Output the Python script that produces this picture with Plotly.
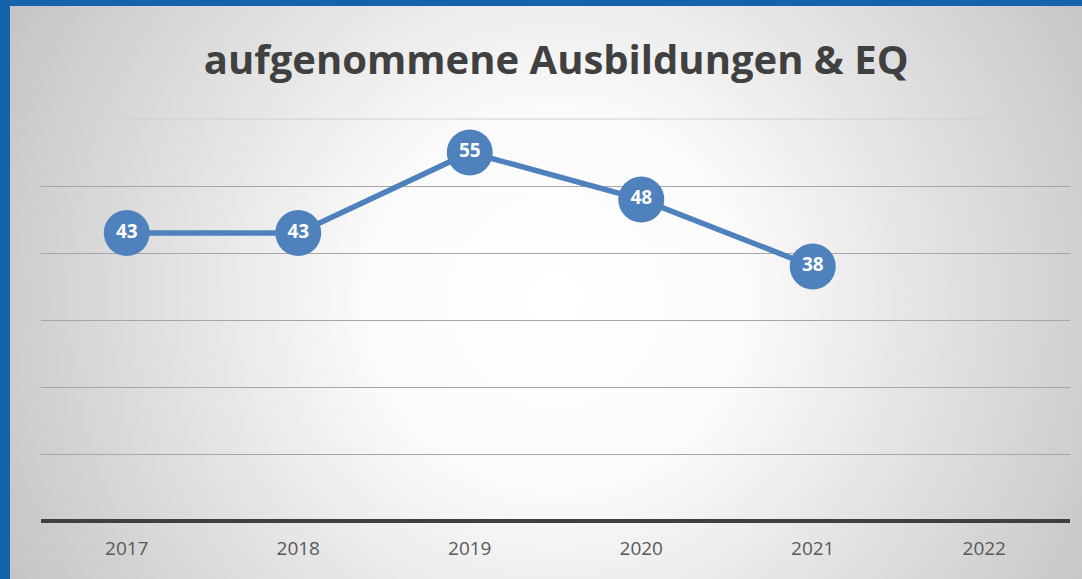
import base64
import plotly.graph_objects as go

years = ["2017", "2018", "2019", "2020", "2021", "2022"]
values = [43, 43, 55, 48, 38, None]

blue = "#4f81bd"

# radial background like the office chart style
svg = """<svg xmlns='http://www.w3.org/2000/svg' width='1082' height='579'>
<defs><radialGradient id='g' cx='556' cy='300' r='620' gradientUnits='userSpaceOnUse'>
<stop offset='0' stop-color='#ffffff'/><stop offset='0.3' stop-color='#fbfbfb'/>
<stop offset='1' stop-color='#c4c4c4'/></radialGradient></defs>
<rect width='1082' height='579' fill='url(#g)'/></svg>"""
bg = "data:image/svg+xml;base64," + base64.b64encode(svg.encode()).decode()

fig = go.Figure()
fig.add_trace(go.Scatter(
    x=years,
    y=values,
    mode="lines+markers+text",
    line=dict(color=blue, width=5.5),
    marker=dict(size=46, color=blue, line=dict(width=0)),
    text=[str(v) if v is not None else "" for v in values],
    textposition="middle center",
    textfont=dict(family="Open Sans", size=19, color="white", weight="bold"),
    cliponaxis=False,
    hoverinfo="skip",
))

L, R, T, B = 41, 12, 119, 58
W, H = 1082, 579
pw, ph = W - L - R, H - T - B


def px_x(p):
    return (p - L) / pw


def px_y(p):
    return (H - B - p) / ph


fig.add_layout_image(dict(
    source=bg, xref="paper", yref="paper",
    x=px_x(0), y=px_y(0), sizex=W / pw, sizey=H / ph,
    sizing="stretch", layer="below", xanchor="left", yanchor="top",
))

# blue frame on left and top
fig.add_shape(type="rect", xref="paper", yref="paper",
              x0=px_x(0), x1=px_x(10), y0=px_y(H), y1=px_y(0),
              fillcolor="#1463ab", line_width=0, layer="above")
fig.add_shape(type="rect", xref="paper", yref="paper",
              x0=px_x(0), x1=px_x(W), y0=px_y(6), y1=px_y(0),
              fillcolor="#1463ab", line_width=0, layer="above")
# top gridline (edge of range) and axis line, paper refs so not clipped
fig.add_shape(type="line", xref="paper", yref="paper",
              x0=0, x1=1, y0=1, y1=1,
              line=dict(color="#d0d0d0", width=1), layer="below")
fig.add_shape(type="line", xref="paper", yref="paper",
              x0=0, x1=1, y0=0, y1=0,
              line=dict(color="#404040", width=4), layer="below")

fig.update_layout(
    width=W, height=H,
    margin=dict(l=L, r=R, t=T, b=B),
    paper_bgcolor="rgba(0,0,0,0)",
    plot_bgcolor="rgba(0,0,0,0)",
    showlegend=False,
    title=dict(
        text="aufgenommene Ausbildungen & EQ",
        x=0.514, xanchor="center", y=1 - 60 / H, yanchor="middle",
        font=dict(family="Open Sans", size=40, color="#404040", weight="bold"),
    ),
)
fig.update_xaxes(
    type="category", range=[-0.5, 5.5], showgrid=False, zeroline=False,
    showline=False, ticks="", ticklabelstandoff=14,
    tickfont=dict(family="Open Sans", size=19, color="#595959"),
)
fig.update_yaxes(
    range=[0, 60], dtick=10, showticklabels=False, zeroline=False,
    gridcolor="#a6a6a6", gridwidth=1, showline=False,
)

fig.write_html("out.html", config={"displayModeBar": False},
               post_script="document.body.style.margin='0';")
